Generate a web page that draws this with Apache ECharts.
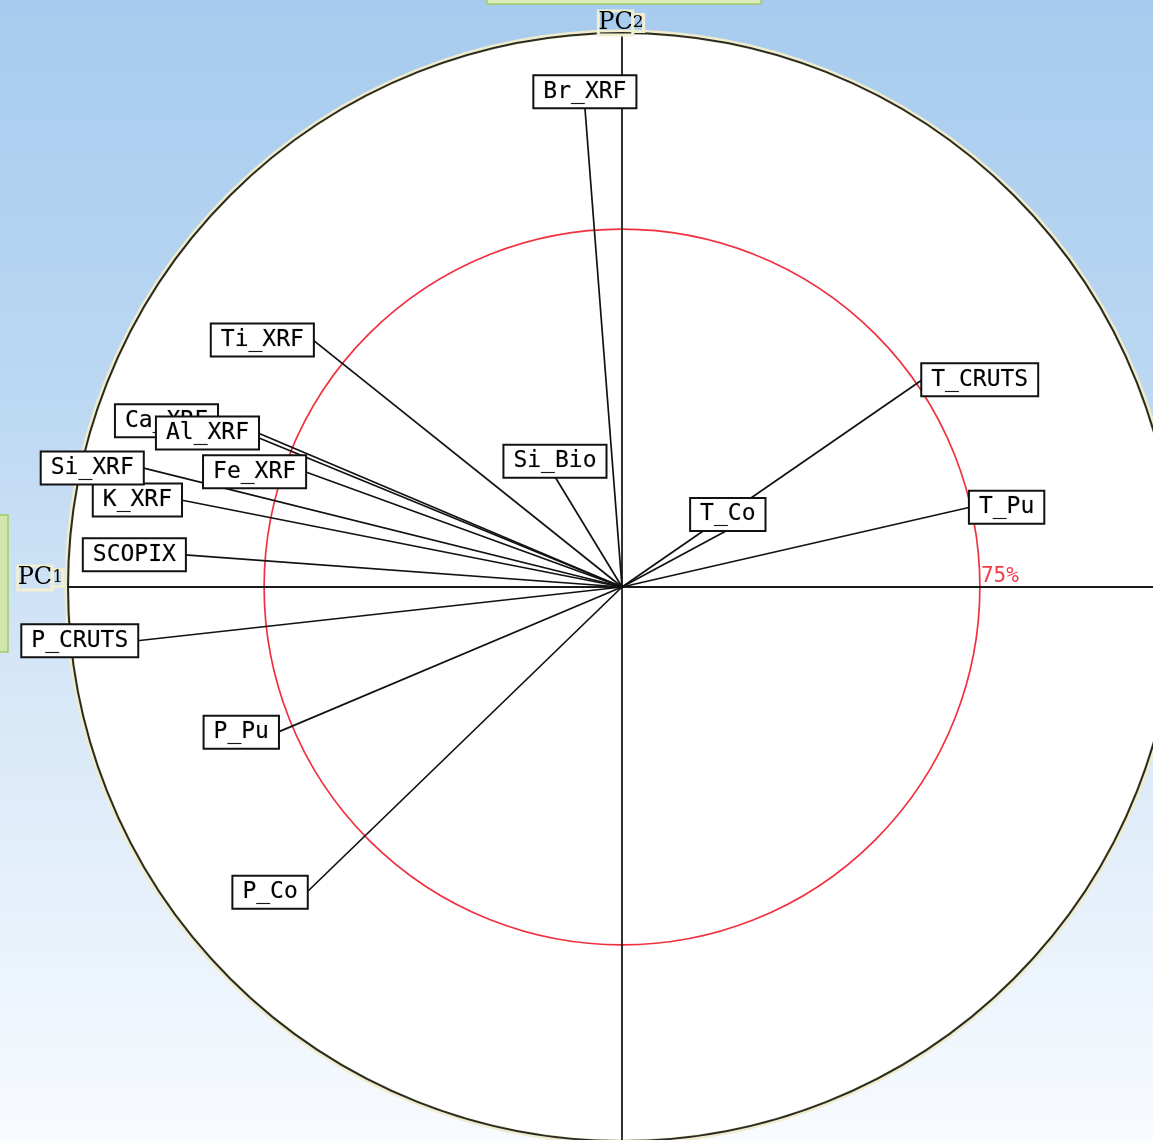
<!DOCTYPE html>
<html>
<head>
<meta charset="utf-8">
<script src="https://cdn.jsdelivr.net/npm/echarts@6/dist/echarts.min.js"></script>
<style>
  html, body { margin: 0; padding: 0; }
  body {
    width: 1153px; height: 1140px; overflow: hidden;
    background: linear-gradient(to bottom, #a7cbee 0%, #bcd8f2 35%, #d6e7f7 60%, #f8fbff 100%);
  }
  #chart { width: 1153px; height: 1140px; }
</style>
</head>
<body>
<div id="chart"></div>
<script>
// Variable loadings on the first two principal components
const variables = ['P_CRUTS', 'P_Pu', 'P_Co', 'SCOPIX', 'K_XRF', 'Si_XRF', 'Ca_XRF', 'Al_XRF', 'Fe_XRF',
                   'Ti_XRF', 'Br_XRF', 'Si_Bio', 'T_Co', 'T_CRUTS', 'T_Pu'];
const pc1 = [-0.875, -0.621, -0.569, -0.789, -0.796, -0.865, -0.731, -0.657, -0.572,
             -0.558, -0.067, -0.121, 0.191, 0.542, 0.628];
const pc2 = [-0.097, -0.262, -0.551, 0.058, 0.157, 0.215, 0.300, 0.278, 0.208,
             0.446, 0.866, 0.199, 0.103, 0.374, 0.144];

// Circles: unit correlation circle and the inner reference circle
const outerRadius = 1;
const innerRadius = 0.646;
const innerLabel = '75%';
const axisNames = ['PC', 'PC'];
const axisIndex = ['1', '2'];

// Where each label box sits relative to its arrow tip
const labelSide = {
  Br_XRF: 'top', Si_Bio: 'top', T_Co: 'top',
  T_CRUTS: 'right', T_Pu: 'right'
};

const chart = echarts.init(document.getElementById('chart'), null, { renderer: 'canvas' });

const W = 1153, H = 1140, cx = 622, cy = 587, unit = 554;

const pcRich = {
  a: { fontFamily: 'DejaVu Serif', fontSize: 24, color: '#2f2c1c',
       textBorderColor: '#f1efd2', textBorderWidth: 3 },
  b: { fontFamily: 'DejaVu Serif', fontSize: 17, color: '#2f2c1c',
       textBorderColor: '#f1efd2', textBorderWidth: 3 }
};

const option = {
  animation: false,
  backgroundColor: 'transparent',
  grid: { left: 0, top: 0, width: W, height: H },
  xAxis: { type: 'value', min: -cx / unit, max: (W - cx) / unit, show: false },
  yAxis: { type: 'value', min: -(H - cy) / unit, max: cy / unit, show: false },
  graphic: [
    { type: 'rect', z: 100, shape: { x: 487, y: -10, width: 274, height: 14 },
      style: { fill: '#dcecbb', stroke: '#a3cc68', lineWidth: 1.5 } },
    { type: 'rect', z: 100, shape: { x: -10, y: 515, width: 18, height: 137 },
      style: { fill: '#d2e6ad', stroke: '#a3cc68', lineWidth: 1.5 } }
  ],
  series: [
    {
      // correlation circle (white disc)
      type: 'custom', z: 1, silent: true,
      data: [[outerRadius, 0]],
      renderItem(params, api) {
        const c = api.coord([0, 0]);
        const r = api.size([api.value(0), 0])[0];
        return {
          type: 'group',
          children: [
            { type: 'circle', shape: { cx: c[0], cy: c[1], r: r + 1 },
              style: { fill: '#ffffff', stroke: '#efeccd', lineWidth: 5 } },
            { type: 'circle', shape: { cx: c[0], cy: c[1], r: r },
              style: { fill: 'none', stroke: '#2a2a22', lineWidth: 2 } }
          ]
        };
      }
    },
    {
      // inner reference circle
      type: 'custom', z: 2, silent: true,
      data: [[innerRadius, 0]],
      renderItem(params, api) {
        const c = api.coord([0, 0]);
        const r = api.size([api.value(0), 0])[0];
        return {
          type: 'group',
          children: [
            { type: 'circle', shape: { cx: c[0], cy: c[1], r: r },
              style: { fill: 'none', stroke: '#f0303e', lineWidth: 1.7 } },
            { type: 'text', x: c[0] + r + 1, y: c[1],
              style: { text: innerLabel, fill: '#f23a48', font: '21px "DejaVu Sans Mono"',
                       align: 'left', verticalAlign: 'bottom' } }
          ]
        };
      }
    },
    {
      // principal axes and their names
      type: 'custom', z: 3, silent: true,
      data: [[0, 0]],
      renderItem(params, api) {
        const cs = params.coordSys;
        const o = api.coord([0, 0]);
        const left = api.coord([-outerRadius, 0]);
        const top = api.coord([0, outerRadius]);
        return {
          type: 'group',
          children: [
            { type: 'line', shape: { x1: left[0], y1: o[1], x2: cs.x + cs.width, y2: o[1] },
              style: { stroke: '#1a1a1a', lineWidth: 1.8 } },
            { type: 'line', shape: { x1: o[0], y1: top[1], x2: o[0], y2: cs.y + cs.height },
              style: { stroke: '#1a1a1a', lineWidth: 1.8 } },
            { type: 'text', x: left[0] - 5, y: o[1] + 3,
              style: { text: '{a|' + axisNames[0] + '}{b|' + axisIndex[0] + '}', rich: pcRich,
                       align: 'right', verticalAlign: 'bottom' } },
            { type: 'text', x: top[0] - 1, y: top[1] + 2,
              style: { text: '{a|' + axisNames[1] + '}{b|' + axisIndex[1] + '}', rich: pcRich,
                       align: 'center', verticalAlign: 'bottom' } }
          ]
        };
      }
    },
    {
      // loading vectors from the origin
      type: 'custom', z: 4, silent: true,
      data: variables.map((n, i) => [pc1[i], pc2[i]]),
      renderItem(params, api) {
        const o = api.coord([0, 0]);
        const p = api.coord([api.value(0), api.value(1)]);
        return { type: 'line', shape: { x1: o[0], y1: o[1], x2: p[0], y2: p[1] },
                 style: { stroke: '#111111', lineWidth: 1.7 } };
      }
    },
    {
      // variable name boxes at the vector tips
      type: 'scatter', z: 10, silent: true,
      symbolSize: 0,
      itemStyle: { opacity: 1 },
      data: variables.map((n, i) => ({
        name: n,
        value: [pc1[i], pc2[i]],
        label: { position: labelSide[n] || 'left' }
      })),
      label: {
        show: true,
        opacity: 1,
        formatter: '{b}',
        distance: 0,
        fontFamily: 'DejaVu Sans Mono',
        fontSize: 23,
        lineHeight: 27,
        color: '#000000',
        textBorderColor: 'rgba(0,0,0,0.25)',
        textBorderWidth: 0.6,
        backgroundColor: '#ffffff',
        borderColor: '#111111',
        borderWidth: 2,
        padding: [2, 9, 2, 9]
      }
    }
  ]
};

chart.setOption(option);
</script>
</body>
</html>
